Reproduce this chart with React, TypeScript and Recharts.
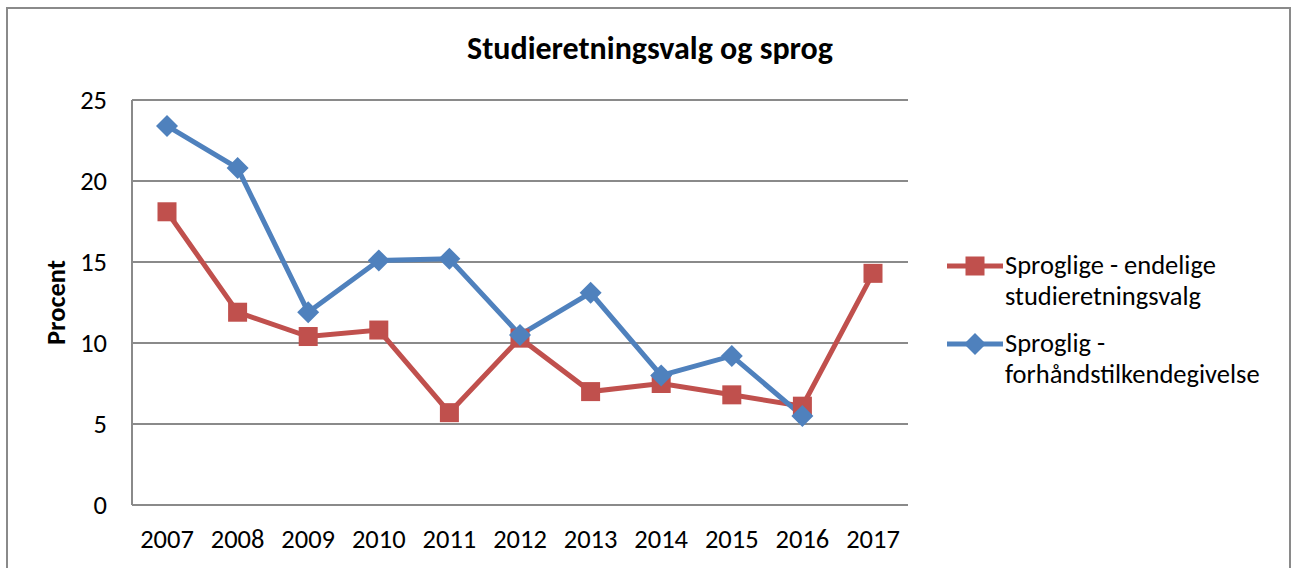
import React from "react";
import { LineChart, Line, XAxis, YAxis, CartesianGrid } from "recharts";

const years = ["2007", "2008", "2009", "2010", "2011", "2012", "2013", "2014", "2015", "2016", "2017"];
const endelige = [18.1, 11.9, 10.4, 10.8, 5.7, 10.3, 7.0, 7.5, 6.8, 6.1, 14.3];
const forhaand = [23.4, 20.8, 11.9, 15.1, 15.2, 10.5, 13.1, 8.0, 9.2, 5.5, null];
const yTicks = [0, 5, 10, 15, 20, 25];

const RED = "#C0504D";
const BLUE = "#4F81BD";
const GRID = "#8a8a8a";
const FONT = "Calibri, Carlito, 'Open Sans', sans-serif";
const FS = 26.5;

const data = years.map((year, i) => ({
  year,
  endelige: endelige[i],
  forhaand: forhaand[i],
}));

const SquareDot = (props: any) => {
  const { cx, cy, index } = props;
  if (cx == null || cy == null) return <g key={`s${index}`} />;
  return <rect key={`s${index}`} x={cx - 9.5} y={cy - 9.5} width={19} height={19} fill={RED} />;
};

const DiamondDot = (props: any) => {
  const { cx, cy, index, value } = props;
  if (cx == null || cy == null || value == null) return <g key={`d${index}`} />;
  const r = 11;
  return (
    <path
      key={`d${index}`}
      d={`M${cx},${cy - r} L${cx + r},${cy} L${cx},${cy + r} L${cx - r},${cy} Z`}
      fill={BLUE}
    />
  );
};

const legendItems = [
  { color: RED, marker: "square", lines: ["Sproglige - endelige", "studieretningsvalg"] },
  { color: BLUE, marker: "diamond", lines: ["Sproglig -", "forhåndstilkendegivelse"] },
];

const ChartLegend = () => (
  <div
    style={{
      position: "absolute",
      left: 945,
      top: 250,
      fontFamily: FONT,
      fontSize: FS,
      color: "#000",
      lineHeight: "31px",
    }}
  >
    {legendItems.map((item, i) => (
      <div key={i} style={{ display: "flex", alignItems: "flex-start", marginBottom: i === 0 ? 16 : 0 }}>
        <svg width={60} height={31} style={{ flexShrink: 0 }}>
          <line x1={2} y1={16} x2={58} y2={16} stroke={item.color} strokeWidth={5} />
          {item.marker === "square" ? (
            <rect x={20.5} y={6.5} width={19} height={19} fill={item.color} />
          ) : (
            <path d="M30,5 L41,16 L30,27 L19,16 Z" fill={item.color} />
          )}
        </svg>
        <div>
          {item.lines.map((l, j) => (
            <div key={j}>{l}</div>
          ))}
        </div>
      </div>
    ))}
  </div>
);

export default function App() {
  return (
    <div style={{ position: "absolute", left: 0, top: 0, width: 1292, height: 568, background: "#fff", overflow: "hidden" }}>
      <div
        style={{
          position: "absolute",
          left: 6,
          top: 7,
          width: 1285,
          height: 600,
          border: `2px solid ${GRID}`,
          boxSizing: "border-box",
        }}
      />
      <div
        style={{
          position: "absolute",
          left: 0,
          width: 1292,
          top: 29,
          textAlign: "center",
          fontFamily: FONT,
          fontWeight: "bold",
          fontSize: 32,
          color: "#000",
          paddingLeft: 4,
        }}
      >
        Studieretningsvalg og sprog
      </div>
      <div style={{ position: "absolute", left: 0, top: 0 }}>
        <LineChart width={1292} height={568} data={data} margin={{ top: 100, right: 384, bottom: 0, left: 32 }}>
          <CartesianGrid vertical={false} stroke={GRID} strokeWidth={2} />
          <XAxis
            dataKey="year"
            padding={{ left: 35, right: 35 }}
            axisLine={{ stroke: GRID, strokeWidth: 2 }}
            tickLine={false}
            tick={{ fill: "#000", fontSize: FS, fontFamily: FONT }}
            tickMargin={18}
            height={63}
            interval={0}
          />
          <YAxis
            domain={[0, 25]}
            ticks={yTicks}
            width={100}
            axisLine={{ stroke: GRID, strokeWidth: 2 }}
            tickLine={false}
            tick={{ fill: "#000", fontSize: FS, fontFamily: FONT }}
            tickMargin={19}
            label={{
              value: "Procent",
              angle: -90,
              position: "insideLeft",
              dx: 19,
              fill: "#000",
              fontSize: FS,
              fontWeight: "bold",
              fontFamily: FONT,
              style: { textAnchor: "middle" },
            }}
          />
          <Line
            dataKey="endelige"
            stroke={RED}
            strokeWidth={5}
            dot={<SquareDot />}
            activeDot={false}
            isAnimationActive={false}
          />
          <Line
            dataKey="forhaand"
            stroke={BLUE}
            strokeWidth={5}
            dot={<DiamondDot />}
            activeDot={false}
            isAnimationActive={false}
          />
        </LineChart>
      </div>
      <ChartLegend />
    </div>
  );
}
